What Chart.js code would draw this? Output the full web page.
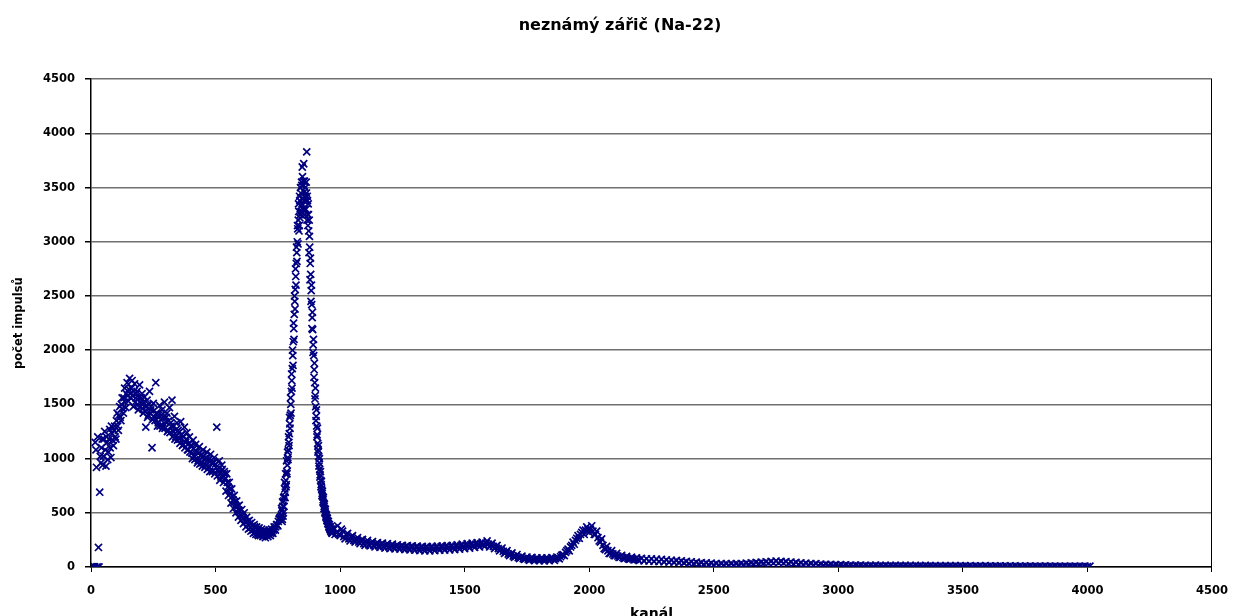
<!DOCTYPE html>
<html>
<head>
<meta charset="utf-8">
<title>neznámý zářič (Na-22)</title>
<script src="https://cdn.jsdelivr.net/npm/chart.js@4"></script>
<style>
    html, body { margin: 0; padding: 0; background: #fff; overflow: hidden; }
    #wrap { width: 1240px; height: 640px; }
</style>
</head>
<body>
<div id="wrap"><canvas id="spectrum" width="1240" height="640"></canvas></div>
<script>
// Spectrum, in channel segments.
// The "Fill" arrays are the in-between channels of the same measurement.

// Compton region: channels 0..760, every 5th channel
const comptonStart = 0, comptonStep = 5;
const comptonCounts = [
    0, 0, 0, 0, 1080, 0, 180, 690, 960, 1180,
    1020, 1250, 930, 1150, 1060, 1270, 1010, 1230, 1120, 1300,
    1180, 1420, 1260, 1480, 1350, 1560, 1420, 1650, 1470, 1700,
    1530, 1740, 1560, 1720, 1480, 1690, 1560, 1620, 1450, 1680,
    1510, 1600, 1420, 1570, 1290, 1540, 1400, 1620, 1450, 1100,
    1510, 1380, 1700, 1420, 1330, 1490, 1360, 1450, 1300, 1520,
    1340, 1420, 1260, 1470, 1330, 1540, 1250, 1390, 1200, 1330,
    1260, 1180, 1340, 1220, 1130, 1290, 1150, 1240, 1080, 1200,
    1120, 1050, 1170, 1020, 1130, 1060, 980, 1110, 1030, 960,
    1080, 1000, 940, 1060, 990, 920, 1040, 960, 890, 1010,
    950, 1290, 900, 980, 870, 940, 830, 880, 820, 860,
    740, 780, 680, 720, 620, 660, 570, 610, 530, 570,
    480, 530, 450, 500, 420, 460, 390, 430, 360, 410,
    340, 390, 320, 370, 300, 360, 290, 350, 280, 340,
    270, 330, 280, 340, 290, 350, 310, 370, 340, 390,
    380, 440, 460
];

// Compton region: channels 2..757, every 5th channel
const comptonFillStart = 2, comptonFillStep = 5;
const comptonFillCounts = [
    0, 0, 0, 1150, 920, 1200, 0, 1020, 1100, 940,
    1180, 1080, 1200, 990, 1180, 1100, 1300, 1170, 1260, 1200,
    1350, 1300, 1400, 1380, 1500, 1460, 1560, 1520, 1600, 1580,
    1640, 1600, 1650, 1580, 1620, 1520, 1600, 1500, 1560, 1480,
    1560, 1460, 1520, 1440, 1480, 1380, 1500, 1420, 1480, 1360,
    1440, 1350, 1420, 1300, 1400, 1300, 1400, 1280, 1380, 1280,
    1380, 1250, 1350, 1240, 1300, 1200, 1300, 1180, 1270, 1170,
    1240, 1140, 1220, 1120, 1200, 1100, 1180, 1080, 1140, 1060,
    1110, 1000, 1090, 990, 1070, 960, 1050, 950, 1030, 930,
    1020, 920, 1000, 900, 990, 880, 980, 880, 960, 860,
    920, 840, 880, 800, 830, 900, 780, 860, 700, 780,
    660, 720, 590, 650, 540, 600, 500, 560, 460, 520,
    430, 470, 400, 440, 370, 420, 350, 400, 330, 380,
    310, 370, 300, 350, 290, 330, 300, 320, 290, 320,
    300, 310, 300, 320, 310, 330, 340, 350, 370, 390,
    420, 450
];

// 511 keV photopeak: channels 764..968, every 2nd channel
const peakStart = 764, peakStep = 2;
const peakCounts = [
    470, 520, 440, 560, 500, 610, 650, 720, 690, 800,
    760, 880, 940, 1010, 1080, 1150, 1230, 1320, 1400, 1500,
    1620, 1720, 1830, 1950, 2080, 2200, 2330, 2450, 2560, 2680,
    2800, 2900, 3000, 3120, 3200, 3280, 3150, 3380, 3250, 3450,
    3330, 3520, 3690, 3400, 3560, 3720, 3460, 3300, 3500, 3380,
    3550, 3830, 3420, 3250, 3350, 3100, 3200, 2950, 2800, 2700,
    2550, 2420, 2300, 2190, 2050, 1950, 1820, 1700, 1580, 1480,
    1390, 1300, 1220, 1140, 1080, 1020, 960, 900, 850, 800,
    760, 720, 680, 650, 620, 590, 560, 540, 510, 490,
    470, 450, 430, 420, 400, 390, 370, 360, 350, 340,
    330, 320, 310
];

// 511 keV photopeak: channels 765..967, every 2nd channel
const peakFillStart = 765, peakFillStep = 2;
const peakFillCounts = [
    540, 420, 600, 470, 640, 560, 780, 640, 860, 740,
    980, 860, 1060, 990, 1200, 1120, 1380, 1280, 1560, 1420,
    1780, 1650, 2000, 1860, 2250, 2100, 2500, 2380, 2750, 2600,
    2950, 2820, 3150, 2980, 3350, 3100, 3420, 3220, 3500, 3280,
    3550, 3350, 3600, 3300, 3520, 3380, 3560, 3250, 3420, 3300,
    3450, 3200, 3380, 3150, 3250, 2900, 3050, 2650, 2850, 2450,
    2600, 2200, 2350, 1980, 2100, 1750, 1880, 1550, 1650, 1350,
    1450, 1200, 1280, 1060, 1120, 930, 1000, 830, 880, 740,
    790, 660, 700, 600, 640, 540, 580, 500, 530, 460,
    480, 430, 450, 400, 420, 370, 390, 350, 370, 330,
    350, 320
];

// Rest of the spectrum: channels 970..4010, every 10th channel
const tailStart = 970, tailStep = 10;
const tailCounts = [
    340, 300, 380, 290, 330, 260, 310, 240, 290, 230,
    270, 215, 255, 200, 245, 195, 235, 185, 225, 180,
    220, 175, 215, 170, 210, 168, 205, 165, 200, 160,
    198, 158, 195, 155, 192, 152, 190, 150, 188, 150,
    190, 152, 192, 155, 195, 156, 198, 158, 200, 160,
    205, 165, 210, 170, 215, 175, 220, 180, 225, 185,
    230, 190, 240, 185, 220, 170, 200, 150, 175, 125,
    150, 105, 130, 90, 115, 78, 100, 70, 92, 62,
    88, 60, 85, 58, 84, 56, 84, 58, 86, 62,
    92, 75, 110, 105, 150, 150, 200, 210, 265, 265,
    320, 300, 370, 320, 380, 300, 330, 240, 260, 170,
    190, 125, 150, 105, 125, 88, 108, 78, 98, 70,
    90, 65, 84, 60, 80, 56, 76, 55, 74, 52,
    72, 50, 70, 48, 66, 46, 62, 44, 60, 42,
    56, 38, 52, 34, 48, 30, 44, 28, 40, 24,
    38, 22, 35, 20, 32, 18, 30, 18, 30, 17,
    30, 18, 30, 20, 32, 22, 35, 25, 38, 28,
    42, 30, 45, 33, 48, 35, 52, 36, 55, 37,
    52, 35, 50, 32, 46, 28, 42, 25, 38, 22,
    35, 20, 32, 18, 30, 16, 27, 15, 25, 14,
    23, 13, 22, 12, 21, 11, 19, 10, 18, 9,
    17, 10, 18, 9, 16, 8, 16, 9, 17, 8,
    15, 8, 16, 7, 15, 8, 15, 7, 14, 8,
    15, 7, 14, 6, 14, 7, 13, 6, 14, 7,
    13, 6, 13, 6, 12, 5, 12, 6, 13, 5,
    12, 6, 12, 5, 11, 5, 12, 4, 11, 5,
    11, 4, 12, 5, 11, 4, 10, 5, 11, 4,
    10, 4, 11, 3, 10, 4, 10, 3, 9, 4,
    10, 3, 9, 4, 9, 3, 10, 3, 9, 4,
    9, 3, 8, 3, 9, 3, 8, 4, 9, 3,
    8, 3, 9, 4, 8
];

// Continuum and 1275 keV region: channels 975..2195, every 10th channel
const tailFillStart = 975, tailFillStep = 10;
const tailFillCounts = [
    360, 320, 300, 350, 280, 300, 260, 280, 245, 260,
    230, 250, 215, 235, 205, 225, 200, 215, 195, 210,
    190, 205, 185, 200, 182, 195, 180, 192, 176, 190,
    172, 188, 170, 185, 168, 182, 166, 180, 165, 180,
    168, 182, 170, 185, 172, 188, 175, 190, 178, 192,
    182, 196, 186, 200, 190, 205, 196, 210, 200, 215,
    205, 220, 210, 205, 190, 185, 170, 160, 145, 135,
    120, 115, 100, 98, 88, 86, 78, 78, 72, 74,
    70, 72, 68, 70, 68, 70, 70, 72, 74, 78,
    85, 95, 115, 135, 165, 185, 230, 245, 290, 300,
    340, 340, 350, 350, 330, 300, 270, 230, 200, 160,
    150, 125, 120, 105, 100, 92, 88, 82, 80, 76,
    74, 70, 68
];

// Axis ticks
const xTicks = [0, 500, 1000, 1500, 2000, 2500, 3000, 3500, 4000, 4500];
const yTicks = [0, 500, 1000, 1500, 2000, 2500, 3000, 3500, 4000, 4500];

const chartTitle = 'neznámý zářič (Na-22)';
const xTitle = 'kanál';
const yTitle = 'počet impulsů';

// turn a segment into {x, y} points
function segmentPoints(start, step, counts) {
    return counts.map((c, i) => ({ x: start + i * step, y: c }));
}

const points = [
    ...segmentPoints(comptonStart, comptonStep, comptonCounts),
    ...segmentPoints(comptonFillStart, comptonFillStep, comptonFillCounts),
    ...segmentPoints(peakStart, peakStep, peakCounts),
    ...segmentPoints(peakFillStart, peakFillStep, peakFillCounts),
    ...segmentPoints(tailStart, tailStep, tailCounts),
    ...segmentPoints(tailFillStart, tailFillStep, tailFillCounts)
];

const fontFamily = '"DejaVu Sans", "Liberation Sans", Arial, sans-serif';
const navy = '#000080';

new Chart(document.getElementById('spectrum').getContext('2d'), {
    type: 'scatter',
    data: {
        datasets: [{
            label: 'Na-22',
            data: points,
            pointStyle: 'crossRot',
            pointRadius: 5,
            pointBorderWidth: 1.7,
            borderColor: navy,
            backgroundColor: navy,
            showLine: false
        }]
    },
    options: {
        responsive: false,
        animation: false,
        devicePixelRatio: 1,
        layout: { padding: 0 },
        plugins: {
            legend: { display: false },
            tooltip: { enabled: false },
            title: {
                display: true,
                text: chartTitle,
                color: '#000',
                font: { family: fontFamily, size: 16, weight: 'bold' },
                padding: { top: 16, bottom: 44 }
            }
        },
        scales: {
            x: {
                type: 'linear',
                min: xTicks[0],
                max: xTicks[xTicks.length - 1],
                afterBuildTicks: (scale) => { scale.ticks = xTicks.map(v => ({ value: v })); },
                afterFit: (scale) => { scale.height = 73; },
                ticks: {
                    color: '#000',
                    padding: 12,
                    maxRotation: 0,
                    callback: (v) => String(v),
                    font: { family: fontFamily, size: 11.5, weight: 'bold' }
                },
                grid: {
                    drawOnChartArea: false,
                    tickLength: 5,
                    tickColor: '#000'
                },
                border: { color: '#000', width: 1.5 },
                title: {
                    display: true,
                    text: xTitle,
                    color: '#000',
                    font: { family: fontFamily, size: 14, weight: 'bold' },
                    padding: { top: 0, bottom: 17 }
                }
            },
            y: {
                type: 'linear',
                min: yTicks[0],
                max: yTicks[yTicks.length - 1],
                afterBuildTicks: (scale) => { scale.ticks = yTicks.map(v => ({ value: v })); },
                afterFit: (scale) => { scale.width = 91; },
                ticks: {
                    color: '#000',
                    padding: 10,
                    callback: (v) => String(v),
                    font: { family: fontFamily, size: 11.5, weight: 'bold' }
                },
                grid: {
                    color: '#707070',
                    lineWidth: 1.5,
                    tickLength: 6,
                    tickColor: '#000'
                },
                border: { color: '#000', width: 1.5 },
                title: {
                    display: true,
                    text: yTitle,
                    color: '#000',
                    font: { family: fontFamily, size: 11.5, weight: 'bold' },
                    padding: { top: 12, bottom: 0 }
                }
            },
            yRight: {
                type: 'linear',
                position: 'right',
                min: yTicks[0],
                max: yTicks[yTicks.length - 1],
                afterFit: (scale) => { scale.width = 24; },
                ticks: { display: false },
                grid: { drawOnChartArea: false, drawTicks: false },
                border: { color: '#000', width: 1 }
            }
        }
    }
});
</script>
</body>
</html>
